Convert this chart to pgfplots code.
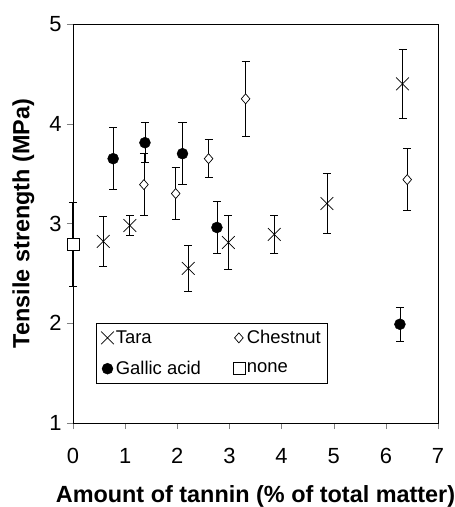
\documentclass[border=0pt]{standalone}
\usepackage{fontspec}
\setmainfont{Liberation Sans}
\usepackage{pgfplots}
\pgfplotsset{compat=1.18}
\begin{document}
\begin{tikzpicture}
\path[use as bounding box] (0,0) rectangle (455bp,507bp);
\begin{axis}[
  at={(73bp,84bp)}, anchor=south west,
  scale only axis, width=365bp, height=399bp,
  xmin=0, xmax=7, ymin=1, ymax=5,
  clip=false,
  xtick={0,...,7}, ytick={1,...,5},
  tick align=outside, tick pos=left,
  major tick length=6bp,
  /pgf/number format/assume math mode=true,
  tick label style={font=\fontsize{22}{26}\selectfont},
  xticklabel style={yshift=-16bp},
  yticklabel style={xshift=-2bp},
  xlabel={\textbf{Amount of tannin (\% of total matter)}},
  ylabel={\textbf{Tensile strength (MPa)}},
  label style={font=\fontsize{23.5}{27}\selectfont},
  xlabel style={yshift=-15bp},
  ylabel style={yshift=8bp},
  legend columns=2,
  legend style={at={(axis cs:0.44,2.0)}, anchor=north west, font=\fontsize{18.5}{22}\selectfont,
    draw=black, inner xsep=5bp, inner ysep=5bp, row sep=12bp,
    /tikz/every even column/.append style={column sep=30bp}},
  legend cell align=left,
  every axis plot/.append style={
    error bars/y dir=both, error bars/y explicit,
    error bars/error mark options={rotate=90, mark size=4bp, black, line width=0.8pt},
    error bars/error bar style={black, line width=0.8pt}},
]
\addplot[only marks, mark=x, mark size=9bp, black, line width=0.7pt]
  coordinates {
  (0.58,2.82) +- (0,0.25)
  (1.09,2.98) +- (0,0.10)
  (2.21,2.55) +- (0,0.23)
  (2.98,2.81) +- (0,0.27)
  (3.86,2.89) +- (0,0.19)
  (4.87,3.20) +- (0,0.30)
  (6.32,4.40) +- (0,0.35)
  };
\addlegendentry{Tara}
\addplot[only marks, mark=diamond*, mark size=5bp, black, mark options={fill=white, line width=0.7pt, xscale=1.15}]
  coordinates {
  (1.36,3.39) +- (0,0.31)
  (1.97,3.30) +- (0,0.26)
  (2.60,3.65) +- (0,0.19)
  (3.31,4.25) +- (0,0.38)
  (6.41,3.44) +- (0,0.31)
  };
\addlegendentry{Chestnut}
\addplot[only marks, mark=*, mark size=5.5bp, black]
  coordinates {
  (0.77,3.65) +- (0,0.31)
  (1.38,3.81) +- (0,0.20)
  (2.10,3.70) +- (0,0.31)
  (2.76,2.96) +- (0,0.26)
  (6.27,1.99) +- (0,0.17)
  };
\addlegendentry{Gallic acid}
\addplot[only marks, mark=square*, mark size=6bp, black, mark options={fill=white, line width=0.7pt},
  error bars/error bar style={black, line width=1.4pt},
  error bars/error mark options={rotate=90, mark size=4bp, black, line width=1.4pt}]
  coordinates {
  (0,2.79) +- (0,0.42)
  };
\addlegendentry{none}
\end{axis}
\end{tikzpicture}
\end{document}
